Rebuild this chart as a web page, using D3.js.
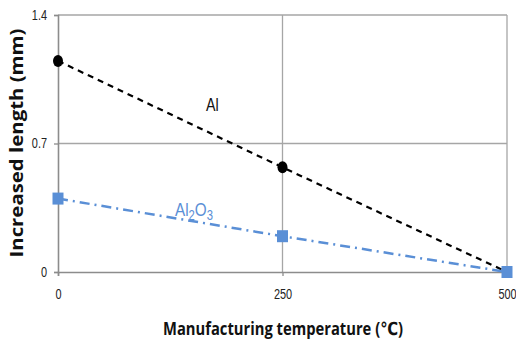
<!DOCTYPE html>
<html>
<head>
<meta charset="utf-8">
<script src="https://cdn.jsdelivr.net/npm/d3@7"></script>
<style>
  body { margin: 0; background: #fff; }
  svg { display: block; }
  .tick text { font-family: "Liberation Sans", sans-serif; font-size: 14px; fill: #222; }
  .axis-title { font-family: "Open Sans", "DejaVu Sans", sans-serif; font-weight: bold; font-size: 18px; fill: #111; }
</style>
</head>
<body>
<svg id="chart" width="516" height="349"></svg>
<script>
// Data
const temperatures = [0, 250, 500];
const alValues = [1.15, 0.57, 0];
const al2o3Values = [0.40, 0.195, 0];
const xTicks = [0, 250, 500];
const yTicks = [0, 0.7, 1.4];

const svg = d3.select('#chart');
const margins = { left: 58, top: 15, right: 9, bottom: 77 };
const width = 516, height = 349;
const innerWidth = width - margins.left - margins.right;
const innerHeight = height - margins.top - margins.bottom;

const x = d3.scaleLinear().domain([0, 500]).range([0, innerWidth]);
const y = d3.scaleLinear().domain([0, 1.4]).range([innerHeight, 0]);

// squeeze text horizontally, like the condensed font of the original
const condense = (selection, factor) => {
  selection.each(function () {
    const w = this.getComputedTextLength();
    d3.select(this).attr('textLength', w * factor).attr('lengthAdjust', 'spacingAndGlyphs');
  });
};

const g = svg.append('g').attr('transform', `translate(${margins.left}, ${margins.top})`);

// Grid
g.append('g')
  .selectAll('line')
  .data(yTicks.filter(d => d > 0))
  .join('line')
  .attr('x1', 0).attr('x2', innerWidth)
  .attr('y1', d => y(d)).attr('y2', d => y(d))
  .style('stroke', '#a6a6a6').style('stroke-width', 1.3);

g.append('g')
  .selectAll('line')
  .data(xTicks.filter(d => d > 0))
  .join('line')
  .attr('x1', d => x(d)).attr('x2', d => x(d))
  .attr('y1', 0).attr('y2', innerHeight)
  .style('stroke', '#a6a6a6').style('stroke-width', 1.3);

// Axes
const xAxis = d3.axisBottom(x).tickValues(xTicks).tickSize(4).tickPadding(13).tickFormat(d3.format('d'));
const yAxis = d3.axisLeft(y).tickValues(yTicks).tickSize(4).tickPadding(7).tickFormat(d => d === 0 ? '0' : d3.format('.1f')(d));

const xg = g.append('g').attr('transform', `translate(0, ${innerHeight})`).call(xAxis);
const yg = g.append('g').call(yAxis);
[xg, yg].forEach(a => {
  a.select('.domain').style('stroke', '#8c8c8c').style('stroke-width', 1.6);
  a.selectAll('.tick line').style('stroke', '#8c8c8c').style('stroke-width', 1.3);
  a.selectAll('.tick text').call(condense, 0.78);
});

// Lines
const alData = temperatures.map((t, i) => ({ x: t, y: alValues[i] }));
const al2o3Data = temperatures.map((t, i) => ({ x: t, y: al2o3Values[i] }));
const line = d3.line().x(d => x(d.x)).y(d => y(d.y));

g.append('path').datum(alData)
  .attr('d', line)
  .style('fill', 'none').style('stroke', '#000').style('stroke-width', 2.2)
  .style('stroke-dasharray', '6 5');

g.append('path').datum(al2o3Data)
  .attr('d', line)
  .style('fill', 'none').style('stroke', '#5a8fd6').style('stroke-width', 2.5)
  .style('stroke-dasharray', '10 5 2 5');

// Markers
g.selectAll('ellipse.al').data(alData.slice(0, 2))
  .join('ellipse')
  .attr('class', 'al')
  .attr('cx', d => x(d.x)).attr('cy', d => y(d.y))
  .attr('rx', 5).attr('ry', 6)
  .style('fill', '#000');

g.selectAll('rect.al2o3').data(al2o3Data)
  .join('rect')
  .attr('class', 'al2o3')
  .attr('x', d => x(d.x) - 5.5).attr('y', d => y(d.y) - 6)
  .attr('width', 11).attr('height', 12)
  .style('fill', '#5a8fd6');

// Series labels (placed in pixel space of the plot)
const alLabel = g.append('text')
  .attr('x', 206 - margins.left).attr('y', 111 - margins.top)
  .style('font-family', '"Liberation Sans", sans-serif')
  .style('font-size', '19px').style('fill', '#111')
  .text('Al');
alLabel.call(condense, 0.75);

const lbl = g.append('text')
  .attr('x', 175 - margins.left).attr('y', 216 - margins.top)
  .style('font-family', '"Liberation Sans", sans-serif')
  .style('font-size', '19px').style('fill', '#5a8fd6');
lbl.append('tspan').text('Al');
lbl.append('tspan').attr('dy', 4).style('font-size', '14px').text('2');
lbl.append('tspan').attr('dy', -4).text('O');
lbl.append('tspan').attr('dy', 4).style('font-size', '14px').text('3');
lbl.attr('textLength', 38).attr('lengthAdjust', 'spacingAndGlyphs');

// Axis titles
svg.append('text')
  .attr('class', 'axis-title')
  .attr('x', 283).attr('y', 335)
  .attr('text-anchor', 'middle')
  .attr('textLength', 240).attr('lengthAdjust', 'spacingAndGlyphs')
  .text('Manufacturing temperature (℃)');

svg.append('text')
  .attr('class', 'axis-title')
  .attr('transform', `translate(23, 143) rotate(-90)`)
  .attr('text-anchor', 'middle')
  .attr('textLength', 229).attr('lengthAdjust', 'spacingAndGlyphs')
  .text('Increased length (mm)');
</script>
</body>
</html>
